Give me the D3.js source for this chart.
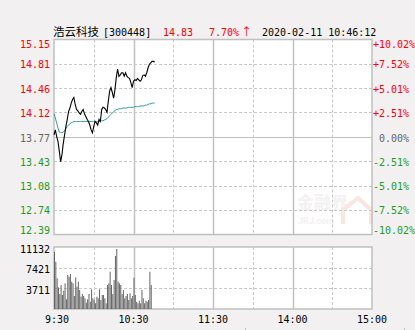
<!DOCTYPE html>
<html>
<head>
<meta charset="utf-8">
<script src="https://cdn.jsdelivr.net/npm/d3@7"></script>
<style>
  body { margin: 0; background: #f2f0f0; }
  svg { display: block; }
  text { font-family: "DejaVu Sans Mono", monospace; font-size: 10px; }
</style>
</head>
<body>
<svg id="canvas" width="415" height="330"></svg>
<script>
// price per minute from 9:30
let prices = [13.80, 13.87, 13.78, 13.71, 13.57, 13.42, 13.52, 13.68, 13.80, 13.92,
              14.02, 14.13, 14.18, 14.25, 14.30, 14.33, 14.23, 14.16, 14.14, 14.11,
              14.09, 14.13, 14.16, 14.10, 14.06, 14.02, 13.99, 13.94, 13.87, 13.83,
              13.92, 13.99, 13.97, 13.94, 14.02, 13.99, 14.16, 14.19, 14.18, 14.16,
              14.12, 14.28, 14.42, 14.47, 14.40, 14.32, 14.44, 14.61, 14.73, 14.63,
              14.65, 14.68, 14.68, 14.63, 14.68, 14.63, 14.61, 14.60, 14.54, 14.47,
              14.56, 14.58, 14.57, 14.60, 14.58, 14.56, 14.58, 14.64, 14.65, 14.63,
              14.68, 14.75, 14.80, 14.82, 14.84, 14.84, 14.83]

// average price line
let avgPrices = [14.10, 14.04, 13.97, 13.90, 13.84, 13.83, 13.83, 13.84, 13.86, 13.89,
                 13.92, 13.94, 13.96, 13.97, 13.98, 13.99, 13.99, 13.99, 13.99, 13.99,
                 13.99, 13.99, 13.99, 13.99, 13.99, 13.99, 13.99, 13.99, 13.99, 13.99,
                 13.99, 13.99, 13.99, 13.99, 13.99, 14.00, 14.00, 14.00, 14.01, 14.02,
                 14.03, 14.05, 14.07, 14.09, 14.11, 14.13, 14.14, 14.16, 14.16, 14.17,
                 14.17, 14.17, 14.18, 14.18, 14.18, 14.18, 14.19, 14.19, 14.19, 14.19,
                 14.19, 14.20, 14.20, 14.20, 14.20, 14.21, 14.21, 14.21, 14.21, 14.22,
                 14.22, 14.23, 14.24, 14.24, 14.25, 14.25, 14.25]

// volume per minute
let volumes = [10288, 8490, 5512, 3896, 2693, 4309, 2514, 3286, 4614, 1742,
               6105, 5800, 6284, 4902, 4614, 2334, 5692, 4004, 4902, 3411,
               2208, 2693, 2334, 1921, 1131, 1742, 2693, 1311, 3537, 1921,
               1616, 1023, 2208, 1921, 3537, 1616, 2514, 2514, 1921, 1023,
               4309, 4614, 6697, 4309, 2693, 5207, 9516, 10773, 4902, 4614,
               4309, 2693, 3411, 1921, 2334, 2693, 1616, 2818, 1921, 2334,
               5620, 2514, 1311, 1023, 1490, 1023, 3411, 1921, 1023, 1490,
               1311, 1616, 6697, 4309]

let priceTicks = [15.15, 14.81, 14.46, 14.12, 13.77, 13.43, 13.08, 12.74, 12.39]
let pctLabels = ['+10.02%', '+7.52%', '+5.01%', '+2.51%', ' 0.00%', '-2.51%', '-5.01%', '-7.52%', '-10.02%']
let volTicks = [11132, 7421, 3711]
let timeTicks = [0, 30, 60, 90, 120, 150, 180, 210, 240]
let timeLabels = [' 9:30', '', '10:30', '', '11:30', '', '14:00', '', '15:00']

let stockName = '浩云科技'
let stockCode = '[300448]'
let lastPrice = '14.83'
let change = '7.70%'
let stamp = '2020-02-11 10:46:12'

let prevClose = 13.77

let canvas = d3.select('#canvas')

let x = d3.scaleLinear().domain([0, 240]).range([54, 372])
let y = d3.scaleLinear().domain([12.39, 15.15]).range([234.5, 39.5])
let yVol = d3.scaleLinear().domain([0, 11132]).range([309, 247])

let red = '#ff0000', green = '#1f9a1f', grey = '#666666'
let tickColor = (v) => v > prevClose ? red : (v < prevClose ? green : grey)

// panels
canvas.append('rect').attr('x', x(0)).attr('y', y(15.15)).attr('width', x(240) - x(0))
    .attr('height', y(12.39) - y(15.15)).attr('fill', 'white')
canvas.append('rect').attr('x', x(0)).attr('y', yVol(11132)).attr('width', x(240) - x(0))
    .attr('height', yVol(0) - yVol(11132)).attr('fill', 'white')

// watermark
let wm = canvas.append('g').attr('opacity', 0.5)
wm.append('text').attr('x', 297).attr('y', 209).text('金融界')
    .style('font-family', '"Noto Sans CJK SC"').style('font-size', '17px').style('font-weight', 'bold')
    .attr('fill', '#e8e4e4')
wm.append('text').attr('x', 298).attr('y', 224).text('JRJ.com')
    .style('font-family', 'Roboto').style('font-size', '9px').style('font-weight', 'bold')
    .attr('fill', '#e8e4e4')
wm.append('path').attr('d', 'M343,224 L343,210 L358,198 L371,210 L371,224')
    .attr('fill', 'none').attr('stroke', '#f6caca').attr('stroke-width', 4)

// horizontal grid, price panel
canvas.selectAll('.hgrid')
    .data(priceTicks.slice(1, -1))
    .enter()
    .append('line')
    .attr('x1', x(0)).attr('x2', x(240))
    .attr('y1', d => Math.round(y(d)) + 0.5).attr('y2', d => Math.round(y(d)) + 0.5)
    .attr('stroke', d => d == prevClose ? '#c0c0c0' : '#c8c8c8')
    .attr('stroke-dasharray', d => d == prevClose ? null : '3,2')

// horizontal grid, volume panel
canvas.selectAll('.vgridh')
    .data(volTicks.slice(1))
    .enter()
    .append('line')
    .attr('x1', x(0)).attr('x2', x(240))
    .attr('y1', d => Math.round(yVol(d)) + 0.5).attr('y2', d => Math.round(yVol(d)) + 0.5)
    .attr('stroke', '#c8c8c8').attr('stroke-dasharray', '3,2')

// vertical grid in both panels
let inner = timeTicks.slice(1, -1)
;[[y(15.15), y(12.39)], [yVol(11132), yVol(0)]].forEach(([top, bottom]) => {
    canvas.append('g').selectAll('line')
        .data(inner)
        .enter()
        .append('line')
        .attr('x1', d => Math.round(x(d)) + 0.5).attr('x2', d => Math.round(x(d)) + 0.5)
        .attr('y1', top).attr('y2', bottom)
        .attr('stroke', d => d % 60 == 0 ? '#c0c0c0' : '#c8c8c8')
        .attr('stroke-width', d => d % 60 == 0 ? 1.5 : 1)
        .attr('stroke-dasharray', d => d % 60 == 0 ? null : '3,2')
})

// borders
canvas.append('rect').attr('x', x(0)).attr('y', y(15.15)).attr('width', x(240) - x(0))
    .attr('height', y(12.39) - y(15.15)).attr('fill', 'none').attr('stroke', '#c0c0c0').attr('stroke-width', 1.5)
canvas.append('rect').attr('x', x(0)).attr('y', yVol(11132)).attr('width', x(240) - x(0))
    .attr('height', yVol(0) - yVol(11132)).attr('fill', 'none').attr('stroke', '#c0c0c0').attr('stroke-width', 1.5)

// volume bars
canvas.selectAll('.bar')
    .data(volumes)
    .enter()
    .append('rect')
    .attr('x', (d, i) => x(i))
    .attr('y', d => yVol(d))
    .attr('width', 1)
    .attr('height', d => yVol(0) - yVol(d))
    .attr('fill', '#666666')

// average line
canvas.append('path')
    .attr('d', d3.line().x((d, i) => x(i)).y(d => y(d))(avgPrices))
    .attr('fill', 'none').attr('stroke', '#2e9c94').attr('stroke-width', 1)

// price line
canvas.append('path')
    .attr('d', d3.line().x((d, i) => x(i)).y(d => y(d))(prices))
    .attr('fill', 'none').attr('stroke', 'black').attr('stroke-width', 1.1)

// left price labels
canvas.selectAll('.plabel')
    .data(priceTicks)
    .enter()
    .append('text')
    .attr('x', 50)
    .attr('y', d => Math.min(Math.max(y(d) + 4.5, 48), 234))
    .attr('text-anchor', 'end')
    .attr('fill', d => tickColor(d))
    .text(d => d.toFixed(2))

// right percent labels
canvas.selectAll('.pct')
    .data(pctLabels)
    .enter()
    .append('text')
    .attr('x', 373)
    .attr('y', (d, i) => Math.min(Math.max(y(priceTicks[i]) + 4.5, 48), 234))
    .attr('fill', (d, i) => tickColor(priceTicks[i]))
    .style('white-space', 'pre')
    .text(d => d)

// volume labels
canvas.selectAll('.vlabel')
    .data(volTicks)
    .enter()
    .append('text')
    .attr('x', 50)
    .attr('y', d => yVol(d) + 5.5)
    .attr('text-anchor', 'end')
    .attr('fill', 'black')
    .text(d => d)

// time labels
canvas.selectAll('.tlabel')
    .data(timeTicks)
    .enter()
    .append('text')
    .attr('x', d => x(d))
    .attr('y', 323)
    .attr('text-anchor', 'middle')
    .attr('fill', 'black')
    .style('white-space', 'pre')
    .text((d, i) => timeLabels[i])

// bottom tick marks
canvas.selectAll('.btick')
    .data([245, 404])
    .enter()
    .append('line')
    .attr('x1', d => d + 0.5).attr('x2', d => d + 0.5)
    .attr('y1', 328).attr('y2', 330)
    .attr('stroke', '#c0c0c0')

// header
canvas.append('text').attr('x', 53).attr('y', 35.5).text(stockName)
    .style('font-family', '"Noto Sans CJK SC"').style('font-size', '11.5px').attr('fill', 'black')
canvas.append('text').attr('x', 103).attr('y', 35.5).text(stockCode).attr('fill', 'black')
canvas.append('text').attr('x', 163).attr('y', 35.5).text(lastPrice).attr('fill', red)
let chg = canvas.append('text').attr('x', 209).attr('y', 35.5).attr('fill', red)
chg.append('tspan').text(change)
chg.append('tspan').attr('dx', 2).style('font-family', '"Noto Sans CJK SC"').style('font-size', '11px').text('↑')
canvas.append('text').attr('x', 262).attr('y', 35.5).text(stamp).attr('fill', 'black')
</script>
</body>
</html>
